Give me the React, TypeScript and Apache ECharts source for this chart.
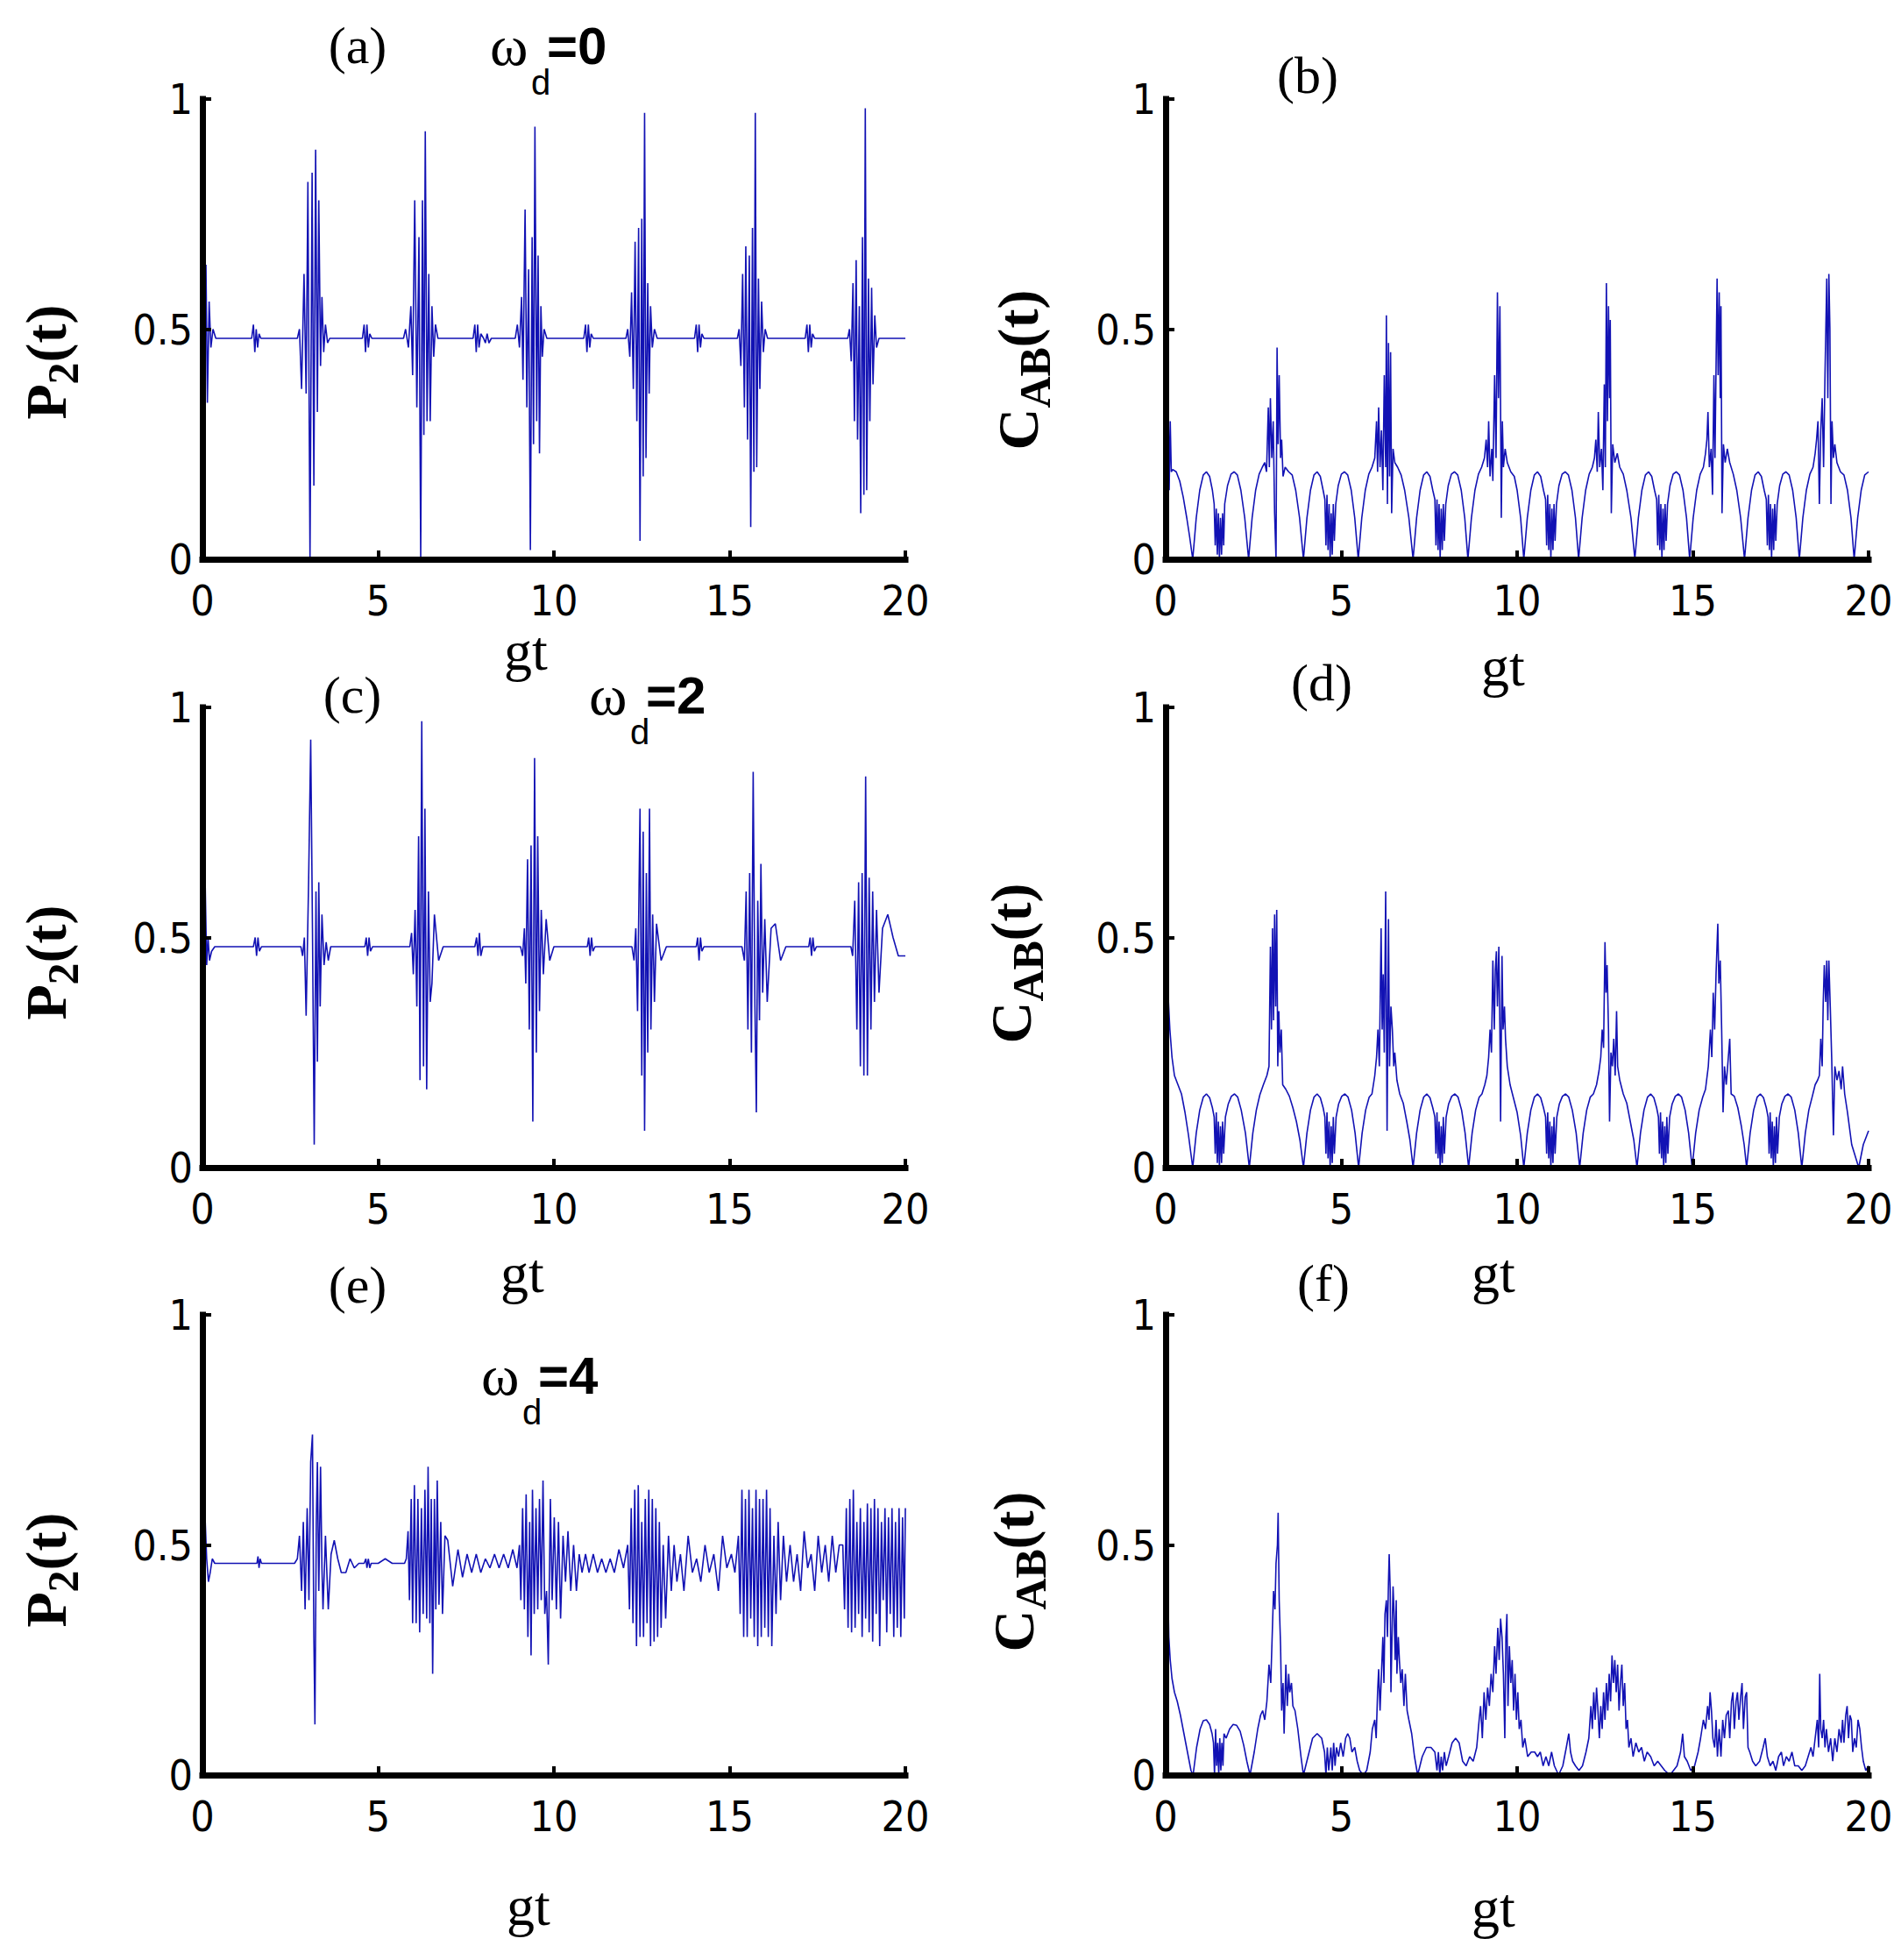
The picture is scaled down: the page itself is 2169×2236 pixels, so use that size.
import React, { useEffect, useRef } from "react";
import * as echarts from "echarts";

// ---------- axis ranges ----------
const X_MIN = 0, X_MAX = 20, X_STEP = 5;
const Y_MIN = 0, Y_MAX = 1, Y_STEP = 0.5;

// ---------- (a) P2(t), wd = 0 ----------
const p2W0: number[][] = [
  [0,0.02],[0.03,0.86],[0.07,0.45],[0.1,0.64],[0.14,0.34],[0.19,0.56],[0.24,0.46],[0.3,0.5],[0.38,0.48],
  [1.4,0.48],[1.45,0.51],[1.49,0.45],[1.53,0.5],[1.57,0.46],[1.61,0.49],[1.66,0.48],
  [2.7,0.48],[2.76,0.5],[2.82,0.37],[2.89,0.62],[2.95,0.36],[3.0,0.82],[3.06,0.0],[3.12,0.84],[3.17,0.16],[3.22,0.89],[3.27,0.32],[3.31,0.78],[3.36,0.42],[3.4,0.57],[3.45,0.45],[3.5,0.51],[3.56,0.47],[3.62,0.48],
  [4.55,0.48],[4.6,0.51],[4.64,0.45],[4.68,0.51],[4.72,0.46],[4.76,0.49],[4.82,0.48],
  [5.72,0.48],[5.78,0.5],[5.86,0.46],[5.93,0.55],[5.98,0.4],[6.04,0.78],[6.1,0.33],[6.16,0.7],[6.21,0.0],[6.26,0.78],[6.3,0.27],[6.34,0.93],[6.39,0.3],[6.44,0.62],[6.48,0.3],[6.53,0.55],[6.58,0.44],[6.63,0.51],[6.7,0.48],
  [7.7,0.48],[7.75,0.51],[7.79,0.45],[7.83,0.51],[7.87,0.46],[7.92,0.49],[8.0,0.48],[8.05,0.47],[8.1,0.49],[8.15,0.47],[8.22,0.48],
  [8.9,0.48],[8.96,0.51],[9.02,0.46],[9.08,0.57],[9.12,0.39],[9.18,0.76],[9.23,0.33],[9.28,0.63],[9.33,0.02],[9.38,0.7],[9.42,0.25],[9.46,0.94],[9.51,0.3],[9.55,0.66],[9.59,0.23],[9.63,0.55],[9.67,0.44],[9.72,0.5],[9.8,0.48],
  [10.85,0.48],[10.9,0.51],[10.94,0.45],[10.98,0.51],[11.02,0.46],[11.06,0.49],[11.12,0.48],
  [12.05,0.48],[12.1,0.5],[12.16,0.44],[12.21,0.58],[12.26,0.37],[12.31,0.69],[12.36,0.3],[12.41,0.72],[12.45,0.04],[12.5,0.74],[12.54,0.18],[12.58,0.97],[12.62,0.22],[12.67,0.6],[12.71,0.36],[12.75,0.55],[12.8,0.46],[12.86,0.5],[12.94,0.48],
  [14.0,0.48],[14.05,0.51],[14.09,0.45],[14.13,0.51],[14.17,0.46],[14.21,0.49],[14.27,0.48],
  [15.22,0.48],[15.27,0.5],[15.32,0.42],[15.37,0.62],[15.42,0.33],[15.46,0.68],[15.51,0.26],[15.56,0.66],[15.6,0.07],[15.65,0.72],[15.69,0.19],[15.73,0.97],[15.77,0.2],[15.82,0.61],[15.86,0.37],[15.91,0.56],[15.96,0.45],[16.01,0.5],[16.08,0.48],
  [17.15,0.48],[17.2,0.51],[17.24,0.45],[17.28,0.51],[17.32,0.46],[17.36,0.49],[17.42,0.48],
  [18.36,0.48],[18.41,0.5],[18.46,0.43],[18.51,0.6],[18.55,0.3],[18.6,0.65],[18.64,0.26],[18.69,0.55],[18.73,0.1],[18.78,0.7],[18.82,0.14],[18.86,0.98],[18.9,0.15],[18.95,0.61],[18.99,0.3],[19.04,0.59],[19.08,0.38],[19.13,0.53],[19.18,0.46],[19.25,0.48],
  [20,0.48],
];

// ---------- (b) C_AB(t), wd = 0 ----------
const cabW0: number[][] = [
  [0,0.05],[0.02,0.38],[0.05,0.12],[0.07,0.36],[0.1,0.15],[0.13,0.3],[0.16,0.19],[0.2,0.195],[0.3,0.19],[0.4,0.17],[0.5,0.135],[0.6,0.09],[0.68,0.05],[0.77,0.0],
  [0.87,0.09],[0.97,0.15],[1.07,0.183],[1.16,0.19],[1.25,0.18],[1.33,0.15],[1.38,0.12],[1.41,0.03],[1.44,0.11],[1.47,0.01],[1.5,0.1],[1.53,0.0],[1.56,0.09],[1.59,0.01],[1.62,0.1],[1.65,0.03],[1.68,0.12],[1.76,0.16],[1.86,0.185],[1.95,0.19],[2.04,0.183],[2.14,0.15],[2.25,0.09],[2.36,0.0],
  [2.46,0.09],[2.56,0.15],[2.66,0.185],[2.75,0.2],[2.82,0.21],[2.87,0.19],[2.92,0.33],[2.95,0.2],[2.98,0.35],[3.02,0.22],[3.06,0.3],[3.1,0.1],[3.14,0.0],[3.17,0.46],[3.2,0.25],[3.23,0.4],[3.27,0.22],[3.3,0.26],[3.34,0.18],[3.4,0.2],[3.5,0.19],[3.6,0.183],[3.7,0.15],[3.81,0.09],[3.92,0.0],
  [4.02,0.09],[4.12,0.15],[4.22,0.183],[4.31,0.19],[4.4,0.18],[4.48,0.15],[4.53,0.13],[4.56,0.03],[4.59,0.14],[4.62,0.02],[4.65,0.12],[4.68,0.0],[4.71,0.1],[4.74,0.01],[4.77,0.12],[4.8,0.04],[4.84,0.12],[4.91,0.16],[5.0,0.185],[5.09,0.19],[5.18,0.183],[5.28,0.15],[5.38,0.09],[5.48,0.0],
  [5.58,0.09],[5.68,0.15],[5.78,0.185],[5.87,0.2],[5.95,0.22],[6.0,0.3],[6.03,0.19],[6.06,0.33],[6.1,0.2],[6.14,0.28],[6.18,0.15],[6.22,0.4],[6.26,0.2],[6.28,0.53],[6.31,0.12],[6.34,0.47],[6.37,0.18],[6.4,0.45],[6.43,0.1],[6.47,0.24],[6.52,0.21],[6.6,0.2],[6.7,0.183],[6.8,0.15],[6.92,0.09],[7.04,0.0],
  [7.14,0.09],[7.24,0.15],[7.34,0.183],[7.43,0.19],[7.52,0.18],[7.6,0.15],[7.66,0.13],[7.69,0.03],[7.72,0.13],[7.75,0.02],[7.78,0.12],[7.81,0.0],[7.84,0.11],[7.87,0.02],[7.9,0.12],[7.93,0.04],[7.97,0.12],[8.04,0.16],[8.13,0.185],[8.22,0.19],[8.31,0.183],[8.41,0.15],[8.51,0.09],[8.6,0.0],
  [8.7,0.09],[8.8,0.15],[8.9,0.185],[8.99,0.2],[9.07,0.22],[9.12,0.26],[9.16,0.2],[9.19,0.3],[9.23,0.18],[9.28,0.24],[9.31,0.17],[9.36,0.4],[9.4,0.22],[9.44,0.58],[9.47,0.35],[9.51,0.55],[9.55,0.09],[9.58,0.3],[9.61,0.2],[9.66,0.24],[9.72,0.21],[9.82,0.19],[9.92,0.18],[10.0,0.15],[10.1,0.09],[10.19,0.0],
  [10.29,0.09],[10.39,0.15],[10.49,0.183],[10.58,0.19],[10.67,0.18],[10.75,0.15],[10.81,0.13],[10.84,0.03],[10.87,0.14],[10.9,0.02],[10.93,0.12],[10.96,0.0],[10.99,0.11],[11.02,0.02],[11.05,0.12],[11.08,0.04],[11.12,0.12],[11.19,0.16],[11.28,0.185],[11.37,0.19],[11.46,0.183],[11.56,0.15],[11.66,0.09],[11.75,0.0],
  [11.85,0.09],[11.95,0.15],[12.05,0.185],[12.14,0.2],[12.2,0.22],[12.24,0.26],[12.28,0.19],[12.31,0.32],[12.35,0.2],[12.4,0.24],[12.44,0.15],[12.48,0.38],[12.51,0.2],[12.54,0.6],[12.57,0.3],[12.6,0.55],[12.63,0.35],[12.65,0.52],[12.68,0.1],[12.72,0.25],[12.78,0.21],[12.85,0.23],[12.92,0.2],[13.02,0.185],[13.12,0.15],[13.24,0.09],[13.35,0.0],
  [13.45,0.09],[13.55,0.15],[13.65,0.183],[13.74,0.19],[13.83,0.18],[13.91,0.15],[13.97,0.13],[14.0,0.03],[14.03,0.14],[14.06,0.02],[14.09,0.12],[14.12,0.0],[14.15,0.11],[14.18,0.02],[14.21,0.12],[14.24,0.04],[14.28,0.12],[14.35,0.16],[14.44,0.185],[14.53,0.19],[14.62,0.183],[14.72,0.15],[14.82,0.09],[14.91,0.0],
  [15.01,0.09],[15.11,0.15],[15.21,0.185],[15.3,0.2],[15.36,0.23],[15.4,0.26],[15.43,0.32],[15.47,0.2],[15.52,0.24],[15.56,0.14],[15.6,0.4],[15.63,0.22],[15.69,0.61],[15.72,0.4],[15.75,0.58],[15.78,0.35],[15.8,0.55],[15.83,0.1],[15.87,0.25],[15.92,0.21],[15.98,0.24],[16.05,0.21],[16.15,0.185],[16.25,0.15],[16.36,0.09],[16.47,0.0],
  [16.57,0.09],[16.67,0.15],[16.77,0.183],[16.86,0.19],[16.95,0.18],[17.03,0.15],[17.09,0.13],[17.12,0.03],[17.15,0.14],[17.18,0.02],[17.21,0.12],[17.24,0.0],[17.27,0.11],[17.3,0.02],[17.33,0.12],[17.36,0.04],[17.4,0.12],[17.47,0.16],[17.56,0.185],[17.65,0.19],[17.74,0.183],[17.84,0.15],[17.94,0.09],[18.03,0.0],
  [18.13,0.09],[18.23,0.15],[18.33,0.185],[18.42,0.2],[18.48,0.23],[18.52,0.26],[18.56,0.3],[18.6,0.12],[18.64,0.28],[18.68,0.35],[18.72,0.2],[18.76,0.4],[18.81,0.61],[18.84,0.35],[18.87,0.62],[18.9,0.5],[18.93,0.12],[18.96,0.3],[19.0,0.22],[19.04,0.25],[19.1,0.21],[19.2,0.19],[19.3,0.183],[19.4,0.15],[19.5,0.09],[19.59,0.0],[19.69,0.09],[19.79,0.15],[19.89,0.183],[20,0.19],
];

// ---------- (c) P2(t), wd = 2 ----------
const p2W2: number[][] = [
  [0,0.02],[0.02,0.78],[0.05,0.3],[0.08,0.61],[0.12,0.44],[0.16,0.5],[0.2,0.45],[0.26,0.47],[0.35,0.48],
  [1.45,0.48],[1.5,0.5],[1.54,0.46],[1.58,0.5],[1.62,0.47],[1.68,0.48],
  [2.8,0.48],[2.85,0.46],[2.9,0.5],[2.95,0.33],[3.02,0.62],[3.08,0.93],[3.13,0.52],[3.18,0.05],[3.23,0.6],[3.27,0.23],[3.31,0.62],[3.35,0.35],[3.4,0.55],[3.46,0.44],[3.52,0.49],[3.58,0.45],[3.65,0.48],
  [4.62,0.48],[4.66,0.5],[4.7,0.46],[4.74,0.5],[4.78,0.47],[4.84,0.48],
  [5.9,0.48],[5.95,0.51],[6.0,0.42],[6.05,0.56],[6.1,0.35],[6.15,0.72],[6.19,0.19],[6.24,0.97],[6.29,0.22],[6.33,0.78],[6.38,0.17],[6.43,0.6],[6.48,0.36],[6.53,0.4],[6.6,0.55],[6.72,0.45],[6.85,0.48],
  [7.75,0.48],[7.8,0.5],[7.84,0.46],[7.88,0.51],[7.92,0.46],[7.98,0.48],
  [9.05,0.48],[9.11,0.46],[9.16,0.52],[9.2,0.4],[9.25,0.67],[9.3,0.3],[9.35,0.7],[9.4,0.1],[9.45,0.89],[9.5,0.25],[9.54,0.72],[9.59,0.34],[9.64,0.56],[9.7,0.42],[9.78,0.54],[9.88,0.45],[10.0,0.48],
  [10.95,0.48],[10.99,0.5],[11.03,0.46],[11.07,0.5],[11.11,0.47],[11.17,0.48],
  [12.22,0.48],[12.28,0.45],[12.33,0.52],[12.38,0.34],[12.45,0.78],[12.5,0.2],[12.54,0.73],[12.58,0.08],[12.63,0.64],[12.67,0.25],[12.72,0.78],[12.76,0.3],[12.81,0.55],[12.86,0.36],[12.92,0.53],[13.05,0.45],[13.2,0.48],
  [14.05,0.48],[14.09,0.5],[14.13,0.45],[14.17,0.5],[14.21,0.47],[14.27,0.48],
  [15.35,0.48],[15.42,0.45],[15.47,0.6],[15.52,0.3],[15.57,0.64],[15.62,0.25],[15.67,0.86],[15.72,0.35],[15.76,0.12],[15.8,0.58],[15.85,0.32],[15.89,0.66],[15.94,0.38],[16.0,0.54],[16.07,0.36],[16.18,0.52],[16.3,0.53],[16.45,0.45],[16.6,0.48],
  [17.25,0.48],[17.29,0.5],[17.33,0.46],[17.37,0.5],[17.41,0.47],[17.47,0.48],
  [18.45,0.48],[18.5,0.46],[18.56,0.58],[18.62,0.3],[18.67,0.62],[18.72,0.22],[18.77,0.64],[18.82,0.2],[18.87,0.85],[18.92,0.2],[18.97,0.63],[19.02,0.3],[19.07,0.6],[19.12,0.36],[19.18,0.56],[19.25,0.38],[19.35,0.52],[19.5,0.55],[19.65,0.5],[19.8,0.46],[20,0.46],
];

// ---------- (d) C_AB(t), wd = 2 ----------
const cabW2: number[][] = [
  [0,0.05],[0.02,0.43],[0.05,0.38],[0.08,0.36],[0.12,0.3],[0.18,0.24],[0.25,0.2],[0.35,0.18],[0.45,0.16],[0.55,0.12],[0.65,0.07],[0.77,0.0],
  [0.87,0.075],[0.97,0.125],[1.07,0.153],[1.16,0.16],[1.25,0.152],[1.33,0.13],[1.38,0.11],[1.41,0.03],[1.44,0.12],[1.47,0.01],[1.5,0.1],[1.53,0.0],[1.56,0.09],[1.59,0.01],[1.62,0.1],[1.65,0.03],[1.7,0.11],[1.78,0.138],[1.87,0.155],[1.96,0.16],[2.05,0.153],[2.15,0.125],[2.27,0.075],[2.38,0.0],
  [2.48,0.075],[2.58,0.125],[2.68,0.158],[2.78,0.18],[2.88,0.2],[2.94,0.22],[2.98,0.48],[3.01,0.3],[3.04,0.52],[3.07,0.32],[3.1,0.55],[3.13,0.35],[3.16,0.56],[3.19,0.22],[3.22,0.34],[3.25,0.25],[3.29,0.3],[3.33,0.18],[3.42,0.17],[3.52,0.155],[3.62,0.13],[3.72,0.1],[3.82,0.06],[3.92,0.0],
  [4.02,0.075],[4.12,0.125],[4.22,0.153],[4.31,0.16],[4.4,0.152],[4.48,0.13],[4.53,0.11],[4.56,0.03],[4.59,0.12],[4.62,0.02],[4.65,0.1],[4.68,0.0],[4.71,0.09],[4.74,0.01],[4.77,0.11],[4.8,0.03],[4.85,0.11],[4.92,0.138],[5.01,0.155],[5.1,0.16],[5.19,0.153],[5.29,0.125],[5.39,0.075],[5.49,0.0],
  [5.59,0.075],[5.69,0.125],[5.79,0.153],[5.87,0.16],[5.95,0.2],[6.0,0.24],[6.04,0.3],[6.08,0.22],[6.11,0.4],[6.13,0.52],[6.16,0.3],[6.19,0.42],[6.22,0.25],[6.26,0.6],[6.3,0.08],[6.34,0.54],[6.37,0.22],[6.41,0.35],[6.45,0.3],[6.49,0.22],[6.52,0.25],[6.58,0.19],[6.66,0.16],[6.76,0.14],[6.86,0.1],[6.95,0.06],[7.04,0.0],
  [7.14,0.075],[7.24,0.125],[7.34,0.153],[7.43,0.16],[7.52,0.152],[7.6,0.13],[7.66,0.11],[7.69,0.03],[7.72,0.12],[7.75,0.02],[7.78,0.1],[7.81,0.0],[7.84,0.09],[7.87,0.01],[7.9,0.11],[7.93,0.03],[7.98,0.11],[8.05,0.138],[8.14,0.155],[8.23,0.16],[8.32,0.153],[8.42,0.125],[8.52,0.075],[8.62,0.0],
  [8.72,0.075],[8.82,0.125],[8.92,0.153],[9.0,0.16],[9.08,0.18],[9.14,0.2],[9.19,0.24],[9.23,0.3],[9.27,0.25],[9.31,0.45],[9.35,0.3],[9.38,0.43],[9.41,0.47],[9.44,0.35],[9.48,0.48],[9.51,0.3],[9.53,0.1],[9.57,0.46],[9.6,0.3],[9.64,0.35],[9.67,0.28],[9.72,0.22],[9.8,0.18],[9.9,0.15],[10.0,0.12],[10.1,0.07],[10.19,0.0],
  [10.29,0.075],[10.39,0.125],[10.49,0.153],[10.58,0.16],[10.67,0.152],[10.75,0.13],[10.81,0.11],[10.84,0.03],[10.87,0.12],[10.9,0.02],[10.93,0.1],[10.96,0.0],[10.99,0.09],[11.02,0.01],[11.05,0.11],[11.08,0.03],[11.13,0.11],[11.2,0.138],[11.29,0.155],[11.38,0.16],[11.47,0.153],[11.57,0.125],[11.68,0.075],[11.78,0.0],
  [11.88,0.075],[11.98,0.125],[12.08,0.153],[12.17,0.16],[12.26,0.18],[12.33,0.21],[12.38,0.24],[12.42,0.3],[12.46,0.26],[12.5,0.49],[12.53,0.38],[12.56,0.44],[12.6,0.3],[12.63,0.1],[12.67,0.25],[12.71,0.22],[12.75,0.28],[12.79,0.2],[12.83,0.34],[12.86,0.22],[12.92,0.19],[13.02,0.16],[13.12,0.14],[13.22,0.1],[13.32,0.06],[13.41,0.0],
  [13.51,0.075],[13.61,0.125],[13.71,0.153],[13.8,0.16],[13.89,0.152],[13.97,0.13],[14.02,0.11],[14.05,0.03],[14.08,0.12],[14.11,0.02],[14.14,0.1],[14.17,0.0],[14.2,0.09],[14.23,0.01],[14.26,0.11],[14.29,0.03],[14.34,0.11],[14.41,0.138],[14.5,0.155],[14.59,0.16],[14.68,0.153],[14.78,0.125],[14.88,0.075],[14.98,0.0],
  [15.08,0.075],[15.18,0.125],[15.28,0.153],[15.36,0.17],[15.44,0.22],[15.5,0.3],[15.54,0.24],[15.58,0.38],[15.62,0.3],[15.66,0.42],[15.71,0.53],[15.74,0.4],[15.78,0.45],[15.82,0.3],[15.86,0.12],[15.9,0.22],[15.95,0.18],[16.01,0.24],[16.05,0.28],[16.09,0.16],[16.18,0.155],[16.28,0.13],[16.38,0.09],[16.46,0.05],[16.53,0.0],
  [16.63,0.075],[16.73,0.125],[16.83,0.153],[16.92,0.16],[17.01,0.152],[17.09,0.13],[17.14,0.11],[17.17,0.03],[17.2,0.12],[17.23,0.02],[17.26,0.1],[17.29,0.0],[17.32,0.09],[17.35,0.01],[17.38,0.11],[17.41,0.03],[17.46,0.11],[17.53,0.138],[17.62,0.155],[17.71,0.16],[17.8,0.153],[17.9,0.125],[18.0,0.075],[18.1,0.0],
  [18.2,0.075],[18.3,0.125],[18.4,0.155],[18.48,0.18],[18.55,0.19],[18.6,0.2],[18.64,0.28],[18.68,0.22],[18.71,0.36],[18.74,0.44],[18.78,0.36],[18.81,0.45],[18.84,0.32],[18.87,0.45],[18.91,0.35],[18.95,0.24],[19.0,0.07],[19.04,0.22],[19.1,0.19],[19.16,0.21],[19.22,0.17],[19.26,0.22],[19.32,0.16],[19.4,0.12],[19.52,0.05],[19.72,0.0],[19.85,0.05],[19.95,0.07],[20,0.08],
];

// ---------- (e) P2(t), wd = 4 ----------
const p2W4: number[][] = [
  [0,0.02],[0.02,0.74],[0.05,0.6],[0.08,0.55],[0.12,0.47],[0.17,0.42],[0.22,0.44],[0.28,0.47],[0.35,0.46],
  [1.55,0.46],[1.58,0.475],[1.61,0.45],[1.64,0.47],[1.68,0.46],
  [2.62,0.46],[2.7,0.47],[2.76,0.52],[2.82,0.4],[2.87,0.55],[2.92,0.36],[2.98,0.58],[3.03,0.38],[3.08,0.68],[3.13,0.74],[3.17,0.3],[3.2,0.11],[3.24,0.55],[3.27,0.68],[3.31,0.4],[3.36,0.67],[3.4,0.45],[3.43,0.36],[3.5,0.52],[3.58,0.36],[3.66,0.48],[3.75,0.51],[3.85,0.47],[3.95,0.44],[4.08,0.44],[4.2,0.47],[4.32,0.45],[4.45,0.46],[4.6,0.46],[4.65,0.47],[4.68,0.45],[4.72,0.47],[4.76,0.45],[4.8,0.46],[5.0,0.46],[5.2,0.47],[5.4,0.46],[5.75,0.46],
  [5.8,0.47],[5.85,0.53],[5.89,0.38],[5.94,0.6],[5.98,0.33],[6.03,0.63],[6.08,0.33],[6.13,0.6],[6.18,0.31],[6.23,0.58],[6.28,0.35],[6.33,0.62],[6.38,0.34],[6.42,0.67],[6.47,0.33],[6.51,0.6],[6.55,0.22],[6.6,0.6],[6.64,0.36],[6.68,0.64],[6.73,0.37],[6.78,0.55],[6.83,0.35],[6.9,0.52],[6.98,0.51],[7.12,0.41],[7.27,0.49],[7.4,0.43],[7.53,0.48],[7.66,0.44],[7.79,0.48],[7.92,0.44],[8.05,0.47],[8.18,0.45],[8.31,0.48],[8.44,0.45],[8.57,0.48],[8.7,0.45],[8.83,0.49],[8.95,0.45],
  [9.02,0.5],[9.06,0.38],[9.11,0.58],[9.16,0.36],[9.21,0.61],[9.26,0.3],[9.31,0.55],[9.35,0.26],[9.39,0.62],[9.44,0.35],[9.49,0.58],[9.54,0.36],[9.59,0.6],[9.64,0.38],[9.69,0.64],[9.74,0.35],[9.79,0.4],[9.84,0.24],[9.9,0.6],[9.95,0.38],[10.01,0.56],[10.07,0.36],[10.13,0.55],[10.19,0.34],[10.26,0.52],[10.33,0.42],[10.4,0.53],[10.48,0.4],[10.56,0.5],[10.64,0.4],[10.72,0.48],[10.8,0.44],[10.9,0.48],[11.0,0.44],[11.12,0.48],[11.24,0.44],[11.36,0.47],[11.48,0.44],[11.6,0.47],[11.72,0.44],[11.85,0.49],[11.98,0.45],
  [12.1,0.5],[12.15,0.36],[12.2,0.58],[12.25,0.33],[12.3,0.62],[12.35,0.28],[12.4,0.63],[12.45,0.3],[12.5,0.55],[12.55,0.3],[12.6,0.6],[12.65,0.33],[12.7,0.62],[12.75,0.28],[12.8,0.6],[12.85,0.29],[12.9,0.58],[12.95,0.3],[13.0,0.55],[13.05,0.32],[13.11,0.5],[13.18,0.34],[13.26,0.52],[13.34,0.4],[13.42,0.5],[13.5,0.42],[13.6,0.48],[13.7,0.4],[13.82,0.52],[13.94,0.44],[14.06,0.47],[14.18,0.42],[14.3,0.5],[14.42,0.44],[14.55,0.48],[14.68,0.4],[14.8,0.52],[14.92,0.45],[15.05,0.48],[15.15,0.44],
  [15.25,0.52],[15.3,0.35],[15.35,0.62],[15.4,0.3],[15.45,0.6],[15.5,0.3],[15.55,0.62],[15.6,0.34],[15.65,0.58],[15.7,0.3],[15.75,0.62],[15.8,0.28],[15.85,0.6],[15.9,0.3],[15.95,0.6],[16.0,0.32],[16.05,0.62],[16.1,0.3],[16.15,0.58],[16.2,0.28],[16.26,0.52],[16.32,0.35],[16.38,0.55],[16.45,0.38],[16.53,0.52],[16.62,0.42],[16.72,0.5],[16.82,0.42],[16.92,0.48],[17.02,0.4],[17.12,0.53],[17.22,0.45],[17.32,0.48],[17.42,0.4],[17.52,0.52],[17.62,0.44],[17.72,0.5],[17.82,0.42],[17.92,0.52],[18.02,0.44],[18.12,0.5],
  [18.22,0.5],[18.27,0.36],[18.32,0.58],[18.37,0.32],[18.42,0.6],[18.47,0.31],[18.52,0.62],[18.57,0.32],[18.62,0.55],[18.67,0.35],[18.72,0.58],[18.77,0.3],[18.82,0.55],[18.87,0.34],[18.92,0.59],[18.97,0.31],[19.02,0.58],[19.07,0.29],[19.12,0.6],[19.17,0.35],[19.22,0.58],[19.27,0.28],[19.32,0.55],[19.37,0.38],[19.42,0.58],[19.47,0.31],[19.52,0.56],[19.57,0.35],[19.62,0.58],[19.67,0.3],[19.72,0.55],[19.77,0.32],[19.82,0.58],[19.87,0.3],[19.92,0.56],[19.97,0.34],[20,0.58],
];

// ---------- (f) C_AB(t), wd = 4 ----------
const cabW4: number[][] = [
  [0,0.05],[0.02,0.45],[0.04,0.3],[0.06,0.42],[0.09,0.3],[0.13,0.25],[0.18,0.21],[0.25,0.18],[0.33,0.16],[0.42,0.13],[0.52,0.09],[0.62,0.05],[0.72,0.01],[0.78,0.0],
  [0.88,0.06],[0.98,0.1],[1.07,0.118],[1.16,0.12],[1.25,0.11],[1.32,0.09],[1.36,0.07],[1.39,0.0],[1.42,0.1],[1.45,0.02],[1.48,0.07],[1.51,0.0],[1.54,0.08],[1.57,0.01],[1.6,0.07],[1.63,0.02],[1.66,0.09],[1.72,0.08],[1.82,0.1],[1.92,0.11],[2.02,0.108],[2.12,0.095],[2.22,0.065],[2.31,0.03],[2.4,0.0],
  [2.52,0.05],[2.62,0.1],[2.7,0.13],[2.76,0.14],[2.82,0.12],[2.88,0.16],[2.94,0.24],[2.99,0.2],[3.03,0.3],[3.07,0.4],[3.11,0.36],[3.14,0.46],[3.18,0.5],[3.2,0.57],[3.23,0.38],[3.27,0.28],[3.3,0.14],[3.34,0.2],[3.37,0.09],[3.42,0.24],[3.46,0.15],[3.5,0.22],[3.53,0.18],[3.58,0.2],[3.62,0.15],[3.68,0.14],[3.76,0.1],[3.85,0.04],[3.92,0.0],
  [4.05,0.04],[4.18,0.08],[4.31,0.09],[4.44,0.08],[4.52,0.05],[4.56,0.0],[4.6,0.06],[4.64,0.01],[4.7,0.06],[4.74,0.01],[4.78,0.07],[4.82,0.02],[4.86,0.06],[4.92,0.04],[4.98,0.07],[5.05,0.04],[5.12,0.08],[5.18,0.09],[5.24,0.08],[5.3,0.05],[5.38,0.06],[5.45,0.03],[5.52,0.01],[5.62,0.0],[5.72,0.01],[5.82,0.05],[5.88,0.1],
  [5.95,0.12],[5.99,0.08],[6.03,0.18],[6.06,0.23],[6.1,0.14],[6.14,0.22],[6.18,0.3],[6.21,0.2],[6.24,0.35],[6.28,0.38],[6.31,0.3],[6.34,0.42],[6.36,0.48],[6.39,0.4],[6.41,0.18],[6.44,0.3],[6.47,0.41],[6.5,0.35],[6.53,0.25],[6.56,0.38],[6.58,0.22],[6.62,0.3],[6.65,0.25],[6.69,0.2],[6.73,0.23],[6.78,0.15],[6.82,0.22],[6.87,0.14],[6.92,0.12],[7.0,0.09],[7.08,0.04],[7.17,0.0],
  [7.3,0.04],[7.42,0.06],[7.55,0.06],[7.66,0.05],[7.72,0.01],[7.76,0.05],[7.8,0.0],[7.84,0.04],[7.88,0.01],[7.93,0.05],[7.98,0.02],[8.05,0.04],[8.15,0.07],[8.25,0.08],[8.35,0.07],[8.45,0.03],[8.55,0.02],[8.65,0.04],[8.75,0.03],[8.85,0.06],[8.92,0.12],
  [8.96,0.15],[9.01,0.08],[9.06,0.18],[9.11,0.12],[9.16,0.19],[9.21,0.15],[9.26,0.22],[9.31,0.18],[9.36,0.28],[9.4,0.22],[9.45,0.32],[9.49,0.25],[9.53,0.34],[9.57,0.3],[9.61,0.22],[9.65,0.08],[9.68,0.3],[9.71,0.35],[9.74,0.15],[9.78,0.28],[9.82,0.2],[9.86,0.25],[9.9,0.14],[9.94,0.22],[9.98,0.12],[10.02,0.18],[10.06,0.1],[10.11,0.12],[10.16,0.06],[10.22,0.08],[10.3,0.04],[10.4,0.05],
  [10.5,0.05],[10.58,0.04],[10.66,0.05],[10.74,0.02],[10.82,0.04],[10.9,0.02],[10.98,0.05],[11.06,0.02],[11.18,0.0],[11.3,0.02],[11.4,0.06],[11.47,0.09],[11.52,0.05],[11.58,0.03],[11.66,0.02],[11.76,0.01],[11.86,0.02],
  [11.96,0.05],[12.04,0.08],[12.1,0.15],[12.14,0.1],[12.18,0.18],[12.22,0.12],[12.26,0.19],[12.3,0.14],[12.34,0.08],[12.38,0.15],[12.42,0.1],[12.46,0.18],[12.5,0.12],[12.54,0.2],[12.58,0.14],[12.62,0.22],[12.66,0.16],[12.7,0.26],[12.74,0.2],[12.78,0.25],[12.82,0.18],[12.86,0.24],[12.9,0.14],[12.94,0.2],[12.98,0.24],[13.02,0.15],[13.06,0.2],[13.1,0.1],[13.14,0.12],[13.18,0.06],[13.24,0.08],[13.3,0.04],[13.38,0.07],[13.46,0.05],[13.54,0.06],[13.62,0.03],[13.7,0.05],[13.8,0.04],[13.9,0.02],[14.0,0.03],[14.1,0.02],[14.2,0.01],[14.35,0.0],
  [14.55,0.02],[14.65,0.05],[14.71,0.09],[14.76,0.04],[14.84,0.03],[14.94,0.01],[15.05,0.02],[15.15,0.05],
  [15.22,0.08],[15.3,0.12],[15.36,0.1],[15.42,0.15],[15.46,0.12],[15.49,0.18],[15.53,0.14],[15.57,0.08],[15.62,0.06],[15.66,0.12],[15.7,0.04],[15.75,0.1],[15.8,0.04],[15.85,0.12],[15.9,0.08],[15.95,0.13],[16.01,0.14],[16.05,0.08],[16.1,0.16],[16.14,0.18],[16.18,0.1],[16.23,0.16],[16.27,0.18],[16.31,0.12],[16.36,0.17],[16.4,0.2],[16.44,0.1],[16.49,0.17],[16.53,0.18],[16.57,0.06],[16.62,0.05],[16.7,0.03],[16.79,0.02],
  [16.9,0.03],[17.0,0.06],[17.06,0.08],[17.12,0.04],[17.2,0.02],[17.28,0.03],[17.36,0.01],[17.44,0.04],[17.52,0.05],[17.58,0.02],[17.66,0.04],[17.74,0.03],[17.82,0.05],[17.9,0.02],[18.0,0.02],[18.1,0.01],[18.2,0.02],[18.28,0.04],
  [18.36,0.06],[18.42,0.04],[18.48,0.08],[18.54,0.12],[18.58,0.06],[18.61,0.22],[18.64,0.1],[18.68,0.08],[18.72,0.12],[18.76,0.06],[18.8,0.1],[18.86,0.05],[18.92,0.08],[18.98,0.03],[19.04,0.08],[19.1,0.05],[19.16,0.1],[19.22,0.07],[19.26,0.12],[19.3,0.07],[19.35,0.13],[19.39,0.15],[19.43,0.08],[19.47,0.13],[19.51,0.12],[19.55,0.05],[19.6,0.08],[19.65,0.06],[19.7,0.12],[19.75,0.1],[19.8,0.06],[19.85,0.03],[19.92,0.01],[20,0.02],
];

// ---------- layout ----------
const LEFT_COL = 231;
const RIGHT_COL = 1330;
const ROW_TOPS = [113, 807, 1500];
const GRID_W = 802;
const GRID_H = 525;

const PANELS = [
  { data: p2W0, left: LEFT_COL, top: ROW_TOPS[0] },
  { data: cabW0, left: RIGHT_COL, top: ROW_TOPS[0] },
  { data: p2W2, left: LEFT_COL, top: ROW_TOPS[1] },
  { data: cabW2, left: RIGHT_COL, top: ROW_TOPS[1] },
  { data: p2W4, left: LEFT_COL, top: ROW_TOPS[2] },
  { data: cabW4, left: RIGHT_COL, top: ROW_TOPS[2] },
];

const LINE_COLOR = "#1212b4";
const SERIF = '"Liberation Serif", "Times New Roman", serif';
const SANS = '"Liberation Sans", Arial, sans-serif';
const NARROW = '"Liberation Sans Narrow", "DejaVu Sans Condensed", "Liberation Sans", Arial, sans-serif';

function txt(x: number, y: number, text: string, font: string, align: string = "center") {
  return {
    type: "text",
    x,
    y,
    silent: true,
    style: { text, font, fill: "#000", align, verticalAlign: "middle" },
  };
}

function yLabel(cx: number, cy: number, main: string, sub: string, mainW: number, subW: number) {
  const tW = 66;
  const total = mainW + subW + tW;
  const x0 = -total / 2;
  return {
    type: "group",
    x: cx,
    y: cy,
    rotation: Math.PI / 2,
    silent: true,
    children: [
      txt(x0, -4, main, `bold 66px ${SERIF}`, "left"),
      txt(x0 + mainW, 16, sub, `bold 50px ${SERIF}`, "left"),
      txt(x0 + mainW + subW, -4, "(t)", `bold 66px ${SERIF}`, "left"),
    ],
  };
}

function omegaLabel(x: number, baseY: number, value: string) {
  return [
    txt(x - 2, baseY - 21, "ω", `66px ${SERIF}`, "left"),
    txt(x + 45, baseY + 22, "d", `40px ${SANS}`, "left"),
    txt(x + 63, baseY - 20, "=" + value, `bold 60px ${SANS}`, "left"),
  ];
}

const GRAPHICS: any[] = [
  txt(408, 52, "(a)", `60px ${SERIF}`),
  txt(1492, 86, "(b)", `60px ${SERIF}`),
  txt(402, 793, "(c)", `60px ${SERIF}`),
  txt(1508, 779, "(d)", `60px ${SERIF}`),
  txt(408, 1466, "(e)", `60px ${SERIF}`),
  txt(1510, 1464, "(f)", `60px ${SERIF}`),
  ...omegaLabel(561, 72, "0"),
  ...omegaLabel(674, 813, "2"),
  ...omegaLabel(551, 1589, "4"),
  txt(600, 742, "gt", `64px ${SERIF}`),
  txt(1715, 760, "gt", `64px ${SERIF}`),
  txt(596, 1452, "gt", `64px ${SERIF}`),
  txt(1704, 1452, "gt", `64px ${SERIF}`),
  txt(603, 2174, "gt", `64px ${SERIF}`),
  txt(1704, 2176, "gt", `64px ${SERIF}`),
  yLabel(56, 413, "P", "2", 40, 25),
  yLabel(56, 1098, "P", "2", 40, 25),
  yLabel(56, 1791, "P", "2", 40, 25),
  yLabel(1165, 422, "C", "AB", 48, 69),
  yLabel(1157, 1099, "C", "AB", 48, 69),
  yLabel(1160, 1793, "C", "AB", 48, 69),
];

function buildOption() {
  const axisLine = { show: true, lineStyle: { color: "#000", width: 7, cap: "square" } };
  const axisTick = { show: true, inside: true, length: 10, lineStyle: { color: "#000", width: 4 } };
  return {
    animation: false,
    backgroundColor: "#ffffff",
    grid: PANELS.map((p) => ({ left: p.left, top: p.top, width: GRID_W, height: GRID_H, containLabel: false })),
    xAxis: PANELS.map((_, i) => ({
      gridIndex: i,
      type: "value",
      min: X_MIN,
      max: X_MAX,
      interval: X_STEP,
      z: 5,
      axisLine,
      axisTick,
      splitLine: { show: false },
      axisLabel: { color: "#000", fontSize: 48, fontFamily: NARROW, margin: 23 },
    })),
    yAxis: PANELS.map((_, i) => ({
      gridIndex: i,
      type: "value",
      min: Y_MIN,
      max: Y_MAX,
      interval: Y_STEP,
      z: 5,
      axisLine,
      axisTick,
      splitLine: { show: false },
      axisLabel: { color: "#000", fontSize: 48, fontFamily: NARROW, margin: 11 },
    })),
    series: PANELS.map((p, i) => ({
      type: "line",
      xAxisIndex: i,
      yAxisIndex: i,
      data: p.data,
      showSymbol: false,
      symbol: "none",
      silent: true,
      z: 2,
      lineStyle: { color: LINE_COLOR, width: 1.6 },
    })),
    graphic: GRAPHICS,
  };
}

export default function App() {
  const ref = useRef<HTMLDivElement>(null);
  useEffect(() => {
    if (!ref.current) return;
    const chart = echarts.init(ref.current, null, { renderer: "svg" });
    chart.setOption(buildOption() as any);
    return () => chart.dispose();
  }, []);
  return (
    <div
      ref={ref}
      style={{ position: "absolute", left: 0, top: 0, width: 2169, height: 2236, background: "#fff" }}
    />
  );
}
